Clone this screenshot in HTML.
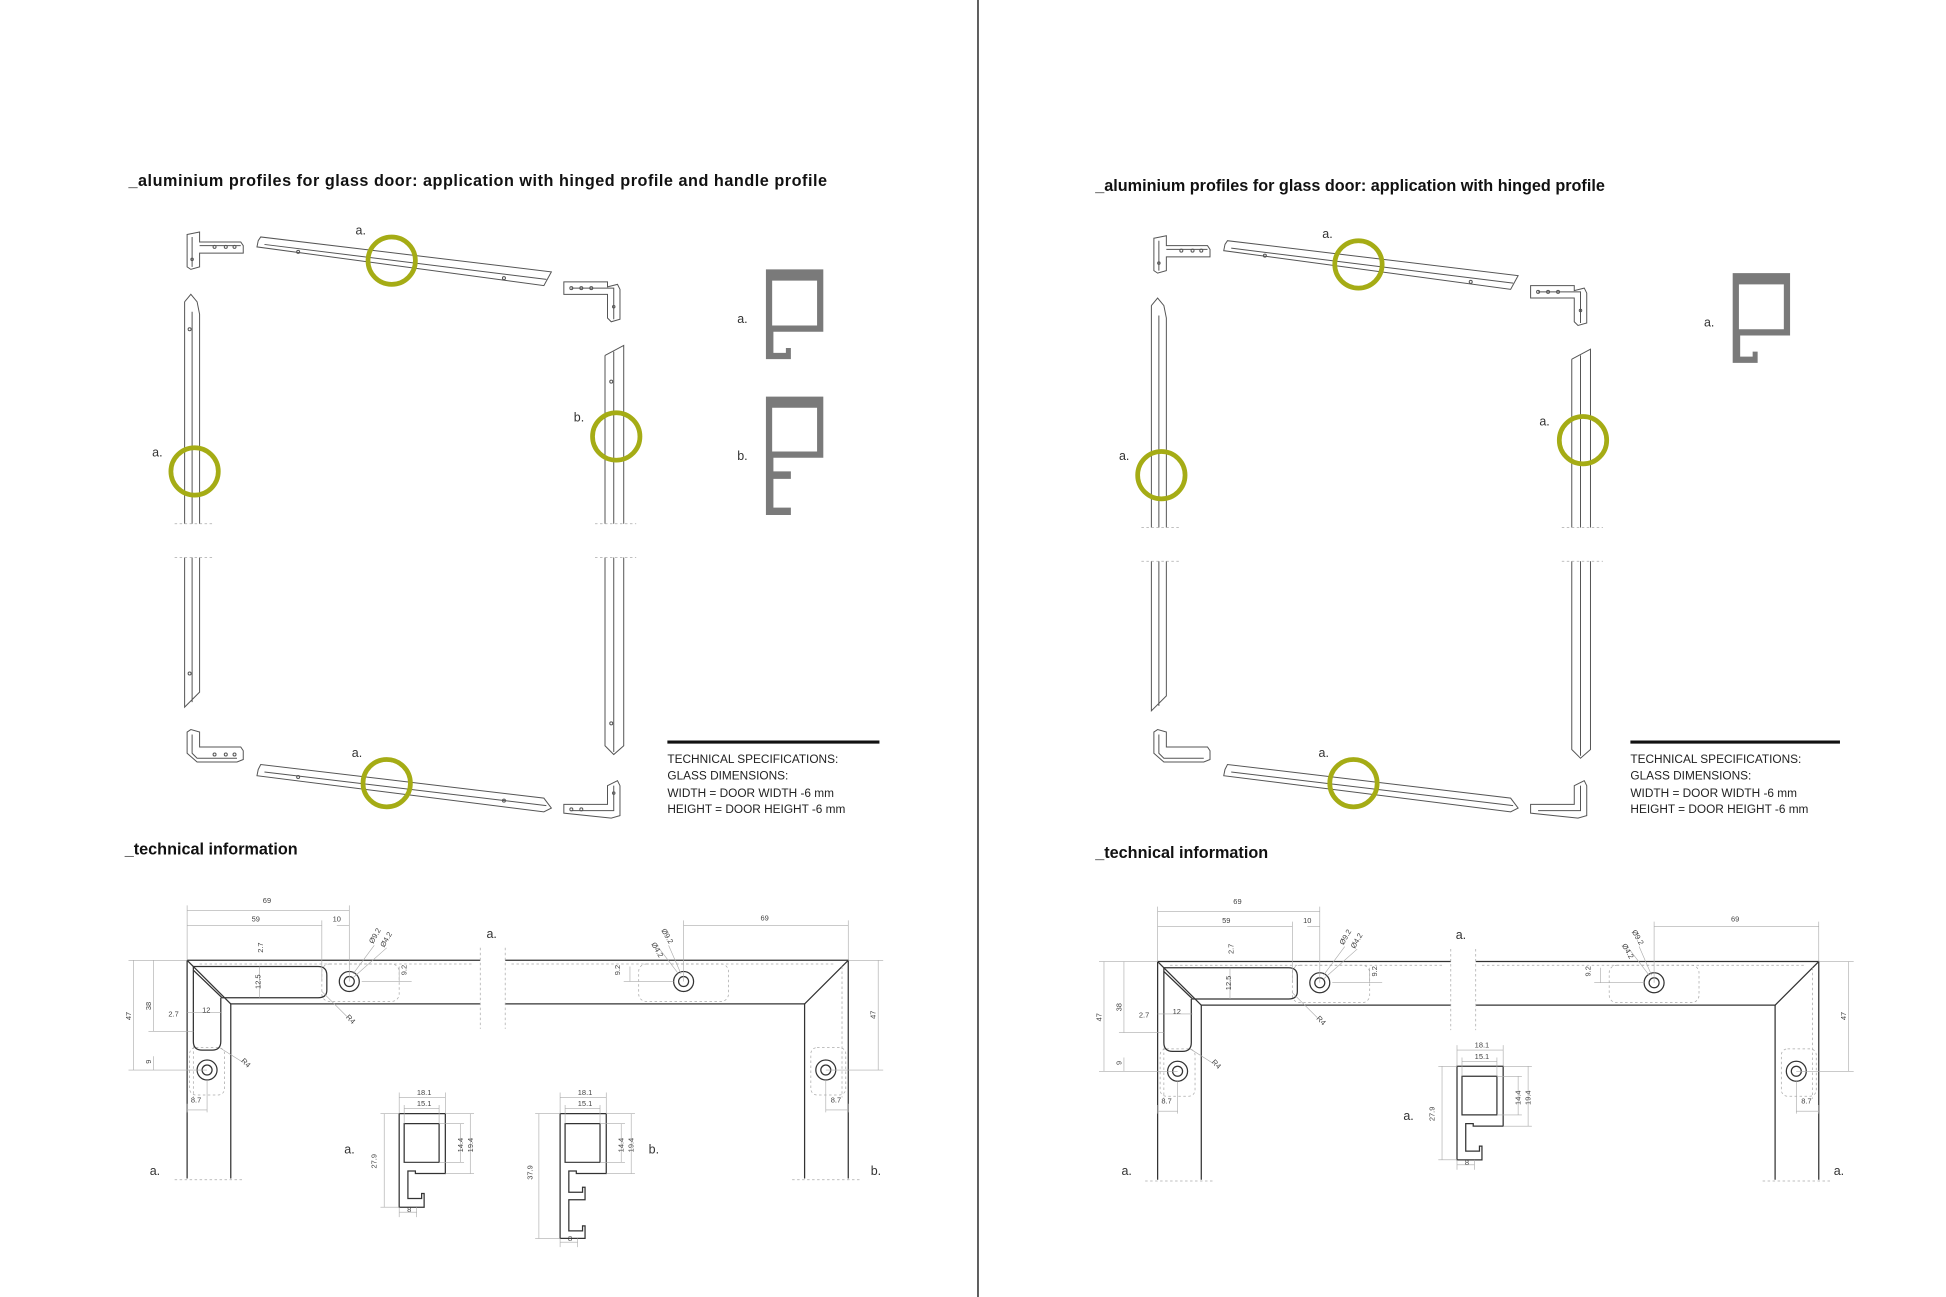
<!DOCTYPE html>
<html><head><meta charset="utf-8"><style>
html,body{margin:0;padding:0;background:#fff;}
svg{display:block;}
text{font-family:"Liberation Sans",sans-serif;}
.t{font-weight:bold;font-size:13px;fill:#111;}
.l{font-size:10px;fill:#333;}
.s{font-size:9.5px;fill:#222;}
.d{font-size:6px;fill:#444;}
.ln{fill:none;stroke:#555;stroke-width:0.8;}
.fr{fill:none;stroke:#333;stroke-width:1;}
.dm{fill:none;stroke:#aaa;stroke-width:0.5;}
.ds{fill:none;stroke:#aaa;stroke-width:0.6;stroke-dasharray:2 2;}
.c{fill:none;stroke:#a5ac15;stroke-width:3.8;}
.p{fill:#7a7a7a;fill-rule:evenodd;}
</style></head><body>
<svg width="1946" height="1297" viewBox="0 0 1560 1040" preserveAspectRatio="none" xmlns="http://www.w3.org/2000/svg">
<rect width="1560" height="1040" fill="#fff"/>
<line x1="784" y1="0" x2="784" y2="1045" stroke="#555" stroke-width="1.5"/>

<defs>
<g id="bracketTL">
<path class="ln" d="M150,188 L160,186 L160,194 L193,194 L195,197 L195,203 L160,203 L160,214 L153,216 L150,214 Z"/>
<path class="ln" d="M154,190 L154,214 M160,197 L193,197"/>
<circle class="ln" cx="172" cy="198" r="1.2"/><circle class="ln" cx="181" cy="198" r="1.2"/><circle class="ln" cx="188" cy="198" r="1.2"/><circle class="ln" cx="154" cy="208" r="1"/>
</g>
<g id="bracketTR">
<path class="ln" d="M452,226 L487,226 L487,230 L495,228 L497,232 L497,256 L490,258 L487,255 L487,236 L452,236 Z"/>
<path class="ln" d="M487,231 L492,231 L492,256 M458,231 L487,231"/>
<circle class="ln" cx="458" cy="231" r="1.2"/><circle class="ln" cx="466" cy="231" r="1.2"/><circle class="ln" cx="474" cy="231" r="1.2"/><circle class="ln" cx="492" cy="246" r="1"/>
</g>
<g id="frameDrawing">
<path class="fr" d="M150,770 H385 M405,770 H680 L680,945 M645,945 L645,805 H405 M385,805 H185 L185,945 M150,945 L150,770"/>
<path class="fr" d="M150,770 L185,805 M680,770 L645,805"/>
<path class="ds" d="M385,760 V825 M405,760 V825"/>
<path class="ds" d="M140,946 H195 M635,946 H690"/>
<path class="ds" d="M160,773 H380 M410,773 H670 M155,775 V880 M675,775 V880"/>
<rect class="ds" x="258" y="773" width="62" height="30" rx="6"/>
<rect class="ds" x="512" y="773" width="72" height="30" rx="6"/>
<rect class="ds" x="152" y="840" width="28" height="38" rx="5"/>
<rect class="ds" x="650" y="840" width="28" height="38" rx="5"/>
<path class="fr" d="M155,775 H255 Q262,775 262,782 V794 Q262,800 255,800 H178 L155,778 Z" stroke-width="0.8"/>
<path class="fr" d="M155,778 V835 Q155,842 162,842 H170 Q177,842 177,835 V800" stroke-width="0.8"/>
<circle class="fr" cx="280" cy="787" r="8"/><circle class="fr" cx="280" cy="787" r="4"/>
<circle class="fr" cx="548" cy="787" r="8"/><circle class="fr" cx="548" cy="787" r="4"/>
<circle class="fr" cx="166" cy="858" r="8"/><circle class="fr" cx="166" cy="858" r="4"/>
<circle class="fr" cx="662" cy="858" r="8"/><circle class="fr" cx="662" cy="858" r="4"/>
<path class="dm" d="M150,730 H280 M150,726 V770 M280,726 V787 M150,742 H258 M258,738 V787 M270,742 H280"/>
<path class="dm" d="M548,742 H680 M548,738 V787 M680,738 V770"/>
<path class="dm" d="M107,770 V858 M103,770 H150 M103,858 H166 M123,770 V827 M119,827 H155 M123,847 V858"/>
<path class="dm" d="M704,770 V858 M680,770 H708 M662,858 H708"/>
<path class="dm" d="M150,885 V892 M166,866 V892 M150,890 H166 M662,866 V892 M680,885 V892 M662,890 H680"/>
<path class="dm" d="M208,775 V800 M290,787 H330 M320,775 V787 M500,787 H540 M505,775 V787"/>
<path class="dm" d="M283,781 L300,758 M283,784 L310,760 M544,781 L528,760 M546,781 L536,758 M258,795 L278,815 M176,840 L195,852 M150,812 H178"/>
<text class="d" x="214" y="724" text-anchor="middle">69</text>
<text class="d" x="205" y="739" text-anchor="middle">59</text>
<text class="d" x="270" y="739" text-anchor="middle">10</text>
<text class="d" x="613" y="738" text-anchor="middle">69</text>
<text class="d" transform="translate(299,757) rotate(-60)">Ø9.2</text>
<text class="d" transform="translate(308,760) rotate(-60)">Ø4.2</text>
<text class="d" transform="translate(522,757) rotate(60)">Ø4.2</text>
<text class="d" transform="translate(530,746) rotate(60)">Ø9.2</text>
<text class="d" transform="translate(211,764) rotate(-90)">2.7</text>
<text class="d" transform="translate(209,793) rotate(-90)">12.5</text>
<text class="d" transform="translate(326,782) rotate(-90)">9.2</text>
<text class="d" transform="translate(497,782) rotate(-90)">9.2</text>
<text class="d" transform="translate(105,818) rotate(-90)">47</text>
<text class="d" transform="translate(121,810) rotate(-90)">38</text>
<text class="d" transform="translate(121,853) rotate(-90)">9</text>
<text class="d" transform="translate(702,817) rotate(-90)">47</text>
<text class="d" transform="translate(277,816) rotate(45)">R4</text>
<text class="d" transform="translate(193,851) rotate(45)">R4</text>
<text class="d" x="135" y="815">2.7</text>
<text class="d" x="162" y="812">12</text>
<text class="d" x="153" y="884">8.7</text>
<text class="d" x="666" y="884">8.7</text>
</g>
<g id="secA">
<path class="fr" d="M320,893 H357 V941 H333 V939 H327 V961 H338 V957 H340 V968 H320 Z M324,901 H352 V932 H324 Z" stroke-width="0.8"/>
<path class="dm" d="M320,880 H357 M320,876 V893 M357,876 V893 M324,889 H352 M324,886 V901 M352,886 V901 M305,893 H320 M305,968 H320 M308,893 V968 M352,901 H372 M352,932 H372 M357,893 H380 M357,941 H380 M369,901 V932 M377,893 V941 M320,972 H334 M320,968 V976 M334,968 V976"/>
<text class="d" x="340" y="878" text-anchor="middle">18.1</text>
<text class="d" x="340" y="887" text-anchor="middle">15.1</text>
<text class="d" transform="translate(302,937) rotate(-90)">27.9</text>
<text class="d" transform="translate(371,924) rotate(-90)">14.4</text>
<text class="d" transform="translate(379,924) rotate(-90)">19.4</text>
<text class="d" x="328" y="972" text-anchor="middle">8</text>
</g>
</defs>

<!-- LEFT PANEL -->
<text class="t" x="103" y="149" textLength="560">_aluminium profiles for glass door: application with hinged profile and handle profile</text>
<use href="#bracketTL"/>
<use href="#bracketTR"/>
<g transform="translate(0,399)"><path class="ln" d="M150,188 L153,186 L160,188 L160,200 L193,200 L195,203 L195,210 L190,212 L158,212 L150,205 Z"/><circle class="ln" cx="172" cy="206" r="1.2"/><circle class="ln" cx="181" cy="206" r="1.2"/><circle class="ln" cx="188" cy="206" r="1.2"/><path class="ln" d="M154,190 V205 L158,209 H190"/></g>
<g transform="translate(0,400)"><path class="ln" d="M452,245 L487,245 L487,230 L495,226 L497,230 L497,254 L490,256 L452,252 Z"/><path class="ln" d="M492,230 V250 H458"/><circle class="ln" cx="458" cy="249" r="1.2"/><circle class="ln" cx="466" cy="249" r="1.2"/><circle class="ln" cx="492" cy="236" r="1"/></g>
<path class="ln" d="M207,193 L209,190 L442,218 L436,229 L206,198 Z M212,196 L438,224"/>
<circle class="ln" cx="239" cy="202" r="1.2"/><circle class="ln" cx="404" cy="223" r="1.2"/>
<path class="ln" d="M207,617 L209,613 L436,640 L442,648 L436,651 L206,622 Z M212,619 L438,646"/>
<circle class="ln" cx="239" cy="623" r="1.2"/><circle class="ln" cx="404" cy="642" r="1.2"/>
<path class="ln" d="M148,242 L153,236 L158,242 L160,252 L160,420 M148,242 V420 M154,250 V420"/>
<path class="ln" d="M148,447 V567 L160,555 V447 M154,447 V563"/>
<circle class="ln" cx="152" cy="264" r="1.2"/><circle class="ln" cx="152" cy="540" r="1.2"/>
<path class="ds" d="M140,420 H172 M140,447 H172"/>
<path class="ln" d="M485,285 L500,277 V420 M485,285 V420 M492,282 V420"/>
<path class="ln" d="M485,447 V598 L492,605 L500,598 V447 M492,447 V603"/>
<circle class="ln" cx="490" cy="306" r="1.2"/><circle class="ln" cx="490" cy="580" r="1.2"/>
<path class="ds" d="M477,420 H510 M477,447 H510"/>
<circle class="c" cx="314" cy="209" r="19"/>
<circle class="c" cx="156" cy="378" r="19"/>
<circle class="c" cx="494" cy="350" r="19"/>
<circle class="c" cx="310" cy="628" r="19"/>
<text class="l" x="285" y="188">a.</text>
<text class="l" x="122" y="366">a.</text>
<text class="l" x="460" y="338">b.</text>
<text class="l" x="282" y="607">a.</text>
<text class="l" x="591" y="259">a.</text>
<text class="l" x="591" y="369">b.</text>
<path class="p" d="M614,216 H660 V266 H620 V283 H630 V279 H634 V288 H614 Z M619,225 H655 V261 H619 Z"/>
<path class="p" d="M614,318 H660 V367 H620 V378 H634 V384 H620 V407 H634 V413 H614 Z M619,327 H655 V362 H619 Z"/>
<line x1="535" y1="595" x2="705" y2="595" stroke="#111" stroke-width="2.5"/>
<text class="s" x="535" y="612">TECHNICAL SPECIFICATIONS:</text>
<text class="s" x="535" y="625" font-size="9">GLASS DIMENSIONS:</text>
<text class="s" x="535" y="639" font-size="9">WIDTH = DOOR WIDTH -6 mm</text>
<text class="s" x="535" y="652" font-size="9">HEIGHT = DOOR HEIGHT -6 mm</text>
<text class="t" x="100" y="685">_technical information</text>
<use href="#frameDrawing"/>
<use href="#secA"/>
<g transform="translate(129,0)">
<path class="fr" d="M320,893 H357 V941 H333 V939 H327 V956 H338 V952 H340 V962 H327 V987 H338 V983 H340 V993 H320 Z M324,901 H352 V932 H324 Z" stroke-width="0.8"/>
<path class="dm" d="M320,880 H357 M320,876 V893 M357,876 V893 M324,889 H352 M324,886 V901 M352,886 V901 M300,893 H320 M300,993 H320 M303,893 V993 M352,901 H372 M352,932 H372 M357,893 H380 M357,941 H380 M369,901 V932 M377,893 V941 M320,996 H334 M320,993 V1000 M334,993 V1000"/>
<text class="d" x="340" y="878" text-anchor="middle">18.1</text>
<text class="d" x="340" y="887" text-anchor="middle">15.1</text>
<text class="d" transform="translate(298,946) rotate(-90)">37.9</text>
<text class="d" transform="translate(371,924) rotate(-90)">14.4</text>
<text class="d" transform="translate(379,924) rotate(-90)">19.4</text>
<text class="d" x="328" y="995" text-anchor="middle">8</text>
</g>
<text class="l" x="120" y="942">a.</text>
<text class="l" x="698" y="942">b.</text>
<text class="l" x="390" y="752">a.</text>
<text class="l" x="276" y="925">a.</text>
<text class="l" x="520" y="925">b.</text>

<!-- RIGHT PANEL -->
<text class="t" x="878" y="153">_aluminium profiles for glass door: application with hinged profile</text>
<g transform="translate(775,3)">
<use href="#bracketTL"/>
<use href="#bracketTR"/>
<path class="ln" d="M207,193 L209,190 L442,218 L436,229 L206,198 Z M212,196 L438,224"/>
<circle class="ln" cx="239" cy="202" r="1.2"/><circle class="ln" cx="404" cy="223" r="1.2"/>
<path class="ln" d="M148,242 L153,236 L158,242 L160,252 L160,420 M148,242 V420 M154,250 V420"/>
<path class="ln" d="M148,447 V567 L160,555 V447 M154,447 V563"/>
<path class="ds" d="M140,420 H172 M140,447 H172"/>
<path class="ln" d="M485,285 L500,277 V420 M485,285 V420 M492,282 V420"/>
<path class="ln" d="M485,447 V598 L492,605 L500,598 V447 M492,447 V603"/>
<path class="ds" d="M477,420 H510 M477,447 H510"/>
<circle class="c" cx="314" cy="209" r="19"/>
<circle class="c" cx="156" cy="378" r="19"/>
<circle class="c" cx="494" cy="350" r="19"/>
<text class="l" x="285" y="188">a.</text>
<text class="l" x="122" y="366">a.</text>
<text class="l" x="459" y="338">a.</text>
<text class="l" x="591" y="259">a.</text>
<path class="p" d="M614,216 H660 V266 H620 V283 H630 V279 H634 V288 H614 Z M619,225 H655 V261 H619 Z"/>
</g>
<g transform="translate(775,0)">
<g transform="translate(0,399)"><path class="ln" d="M150,188 L153,186 L160,188 L160,200 L193,200 L195,203 L195,210 L190,212 L158,212 L150,205 Z"/><path class="ln" d="M154,190 V205 L158,209 H190"/></g>
<g transform="translate(0,400)"><path class="ln" d="M452,245 L487,245 L487,230 L495,226 L497,230 L497,254 L490,256 L452,252 Z"/><path class="ln" d="M492,230 V250 H458"/></g>
<path class="ln" d="M207,617 L209,613 L436,640 L442,648 L436,651 L206,622 Z M212,619 L438,646"/>
<circle class="c" cx="310" cy="628" r="19"/>
<text class="l" x="282" y="607">a.</text>
<line x1="532" y1="595" x2="700" y2="595" stroke="#111" stroke-width="2.5"/>
<text class="s" x="532" y="612">TECHNICAL SPECIFICATIONS:</text>
<text class="s" x="532" y="625" font-size="9">GLASS DIMENSIONS:</text>
<text class="s" x="532" y="639" font-size="9">WIDTH = DOOR WIDTH -6 mm</text>
<text class="s" x="532" y="652" font-size="9">HEIGHT = DOOR HEIGHT -6 mm</text>
<text class="t" x="103" y="688">_technical information</text>
<g transform="translate(3,1)"><use href="#frameDrawing"/></g>
<g transform="translate(73,-38)"><use href="#secA"/></g>
<text class="l" x="350" y="898">a.</text>
<text class="l" x="124" y="942">a.</text>
<text class="l" x="695" y="942">a.</text>
<text class="l" x="392" y="753">a.</text>
</g>
</svg>
</body></html>
